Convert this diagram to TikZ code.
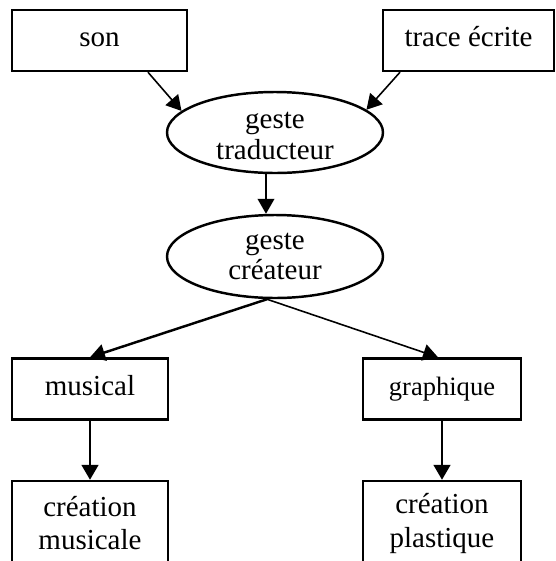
\documentclass[tikz,border=0pt]{standalone}
\usepackage{fontspec}
\setmainfont{Liberation Serif}
\usetikzlibrary{shapes.geometric,arrows.meta}

\begin{document}
\begin{tikzpicture}[align=center,
        font=\fontsize{16.5}{17.6}\selectfont,
        >={Triangle[length=8.5pt,width=9.5pt]},
        boite/.style={draw,line width=1.4pt,inner sep=0pt,minimum height=1.22cm},
        ligne/.style={text height=0.25cm,text depth=0pt},
        bulle/.style={draw,ellipse,line width=1.4pt,inner sep=0pt,minimum width=4.32cm,minimum height=1.62cm},
        fin/.style={line width=0.9pt},
        gras/.style={line width=1.4pt}]
        \useasboundingbox (0,0) rectangle (11.1,-11.22);
        \clip (0,0) rectangle (11.1,-11.22);
        \node[boite,ligne,minimum width=3.5cm](son) at (1.99,-0.81) {son};
        \node[boite,ligne,minimum width=3.41cm](trace) at (9.37,-0.81) {trace écrite};
        \node[bulle](trad) at (5.5,-2.65) {\rule{0pt}{0.45cm}geste\\traducteur};
        \node[bulle,minimum height=1.66cm](crea) at (5.5,-5.13) {geste\\créateur};
        \node[boite,ligne,minimum width=3.12cm](musical) at (1.8,-7.78) {musical};
        \node[boite,ligne,minimum width=3.16cm,font=\fontsize{15.1}{17}\selectfont](graph) at (8.84,-7.78) {graphique};
        \node[boite,minimum width=3.12cm,minimum height=1.7cm,font=\fontsize{16.5}{18.8}\selectfont](cmus) at (1.8,-10.47) {création\\musicale};
        \node[boite,minimum width=3.16cm,minimum height=1.7cm,font=\fontsize{16.5}{18.8}\selectfont](cplas) at (8.84,-10.47) {création\\plastique};
        \draw[->,fin] ([xshift=0.97cm]son.south) -- (trad.167);
        \draw[->,fin] ([xshift=-1.37cm]trace.south) -- (trad.14);
        \draw[->,fin] ([xshift=-0.18cm]trad.south) -- ([xshift=-0.18cm]crea.north);
        \draw[->,gras] ([xshift=-0.16cm]crea.south) -- (musical.north);
        \draw[->,fin] ([xshift=-0.16cm]crea.south) -- ([xshift=-0.08cm]graph.north);
        \draw[->,gras] (musical) -- (cmus);
        \draw[->,gras] (graph) -- (cplas);
    \end{tikzpicture}
\end{document}
